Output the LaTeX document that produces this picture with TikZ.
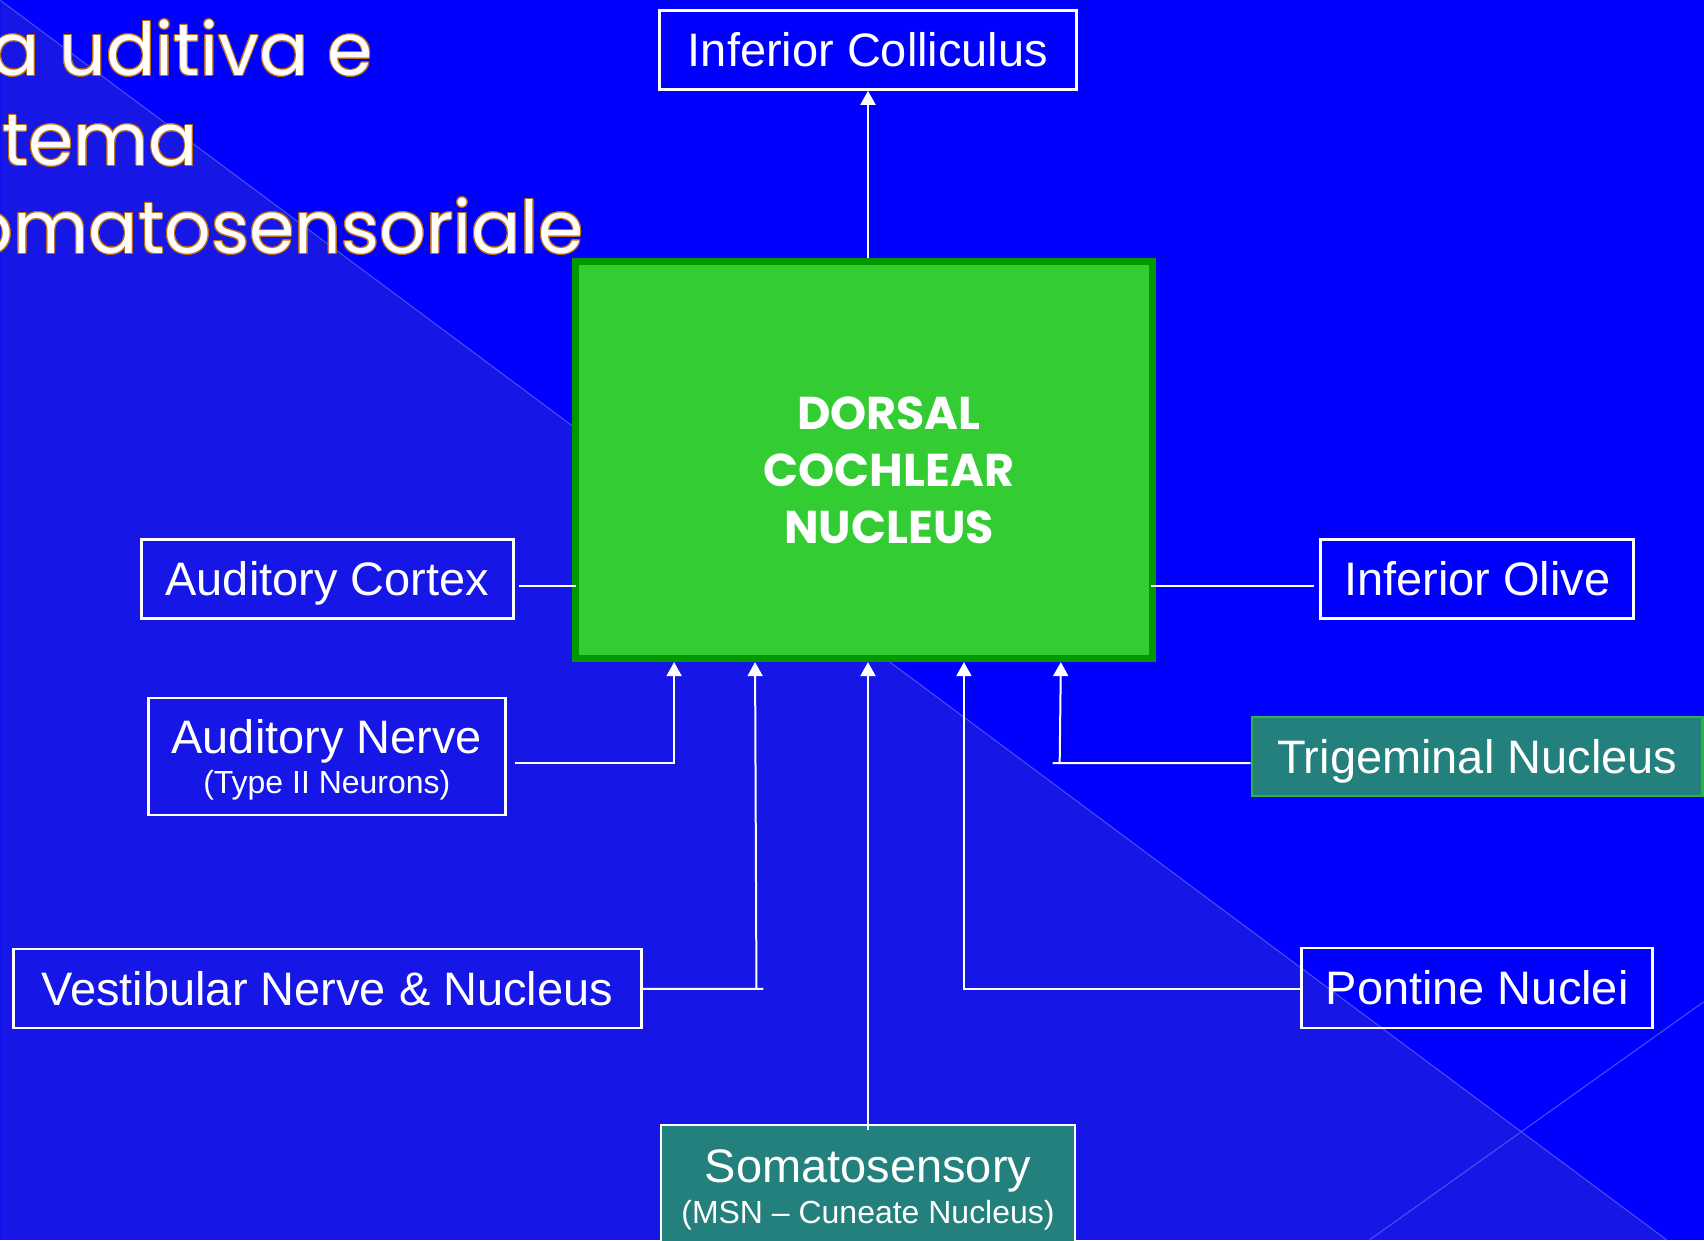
\documentclass[tikz,border=0pt]{standalone}
\usepackage{fontspec}
\setmainfont{Liberation Sans}
\newfontfamily\gothicfont{Poppins}
\usepackage{contour}
\contourlength{0.5pt}
\usetikzlibrary{calc, arrows.meta, positioning}

\definecolor{slideblue}{RGB}{0,0,255}
\definecolor{slidelight}{RGB}{22,22,230}
\definecolor{slideline}{RGB}{80,80,240}
\definecolor{cngreen}{RGB}{51,204,51}
\definecolor{cndark}{RGB}{0,153,0}
\definecolor{tealfill}{RGB}{35,128,125}
\definecolor{tnborder}{RGB}{45,180,70}
\definecolor{titleedge}{RGB}{190,110,20}

\newcommand{\mainsize}{\fontsize{23.5}{28}\selectfont}
\newcommand{\subsize}{\fontsize{16}{19}\selectfont}

\begin{document}
\begin{tikzpicture} [x=0.5pt, y=-0.5pt,
		% define styles
		basicnodestyle/.style={
			% The shape:
			rectangle,
			% The size:
			inner sep=0pt,
			minimum height=39.5pt,
			% The border:
			draw=white,
			line width=1.4pt,
			% Font
			text=white,
			font=\mainsize
		},
		tealnodestyle/.style={
			% The shape:
			rectangle,
			% The size:
			inner sep=0pt,
			minimum height=39.5pt,
			% The border:
			line width=1.2pt,
			% The filling:
			fill=tealfill,
			% Font
			text=white,
			font=\mainsize
		},
		onelinestyle/.style={
			% one line: caps centred, descenders ignored
			text height=17pt,
			text depth=0pt
		},
		greennodestyle/.style={
			% The shape:
			rectangle,
			% The size:
			minimum width=288.5pt,
			minimum height=198.5pt,
			% The border:
			draw=cndark,
			line width=3.5pt,
			% The filling:
			fill=cngreen
		},
		dorsaltextstyle/.style={
			align=center,
			text=white,
			% Font
			font=\gothicfont\bfseries\fontsize{23}{28.5}\selectfont
		},
		titlestyle/.style={
			anchor=base west,
			inner sep=0pt,
			text=white,
			% Font
			font=\gothicfont\fontsize{36.5}{44}\selectfont
		},
		arrow/.style={
			-{Triangle[width=7.5pt,length=7pt]},
			% Thickness
			line width=1pt,
			% Color
			white
		},
		connector/.style={
			-,
			% Thickness
			line width=1pt,
			% Color
			white
		}]
		% end of style definition
		
		% background
		\fill [slideblue] (0,0) rectangle (1704,1240);
		\fill [slidelight] (0,0) -- (1667,1240) -- (0,1240) -- cycle;
		\draw [slideline, line width=0.5pt] (0,0) -- (1667,1240);
		\draw [slideline, line width=0.5pt] (1370,1240) -- (1704,1002);
		\useasboundingbox (0,0) rectangle (1704,1240);
		
		% title
		\node (iTitleA) [titlestyle] at (-10,75) {\contour{titleedge}{a uditiva e}};
		\node (iTitleB) [titlestyle] at (-37,165) {\contour{titleedge}{stema}};
		\node (iTitleC) [titlestyle] at (-34,253) {\contour{titleedge}{omatosensoriale}};
		
		% draw nodes
		\node (iDorsal) [greennodestyle] at (864,460) {};
		\node (iDorsalText) [dorsaltextstyle] at (889,470) {DORSAL\\COCHLEAR\\NUCLEUS};
		
		\node (iColliculus) [basicnodestyle, onelinestyle, minimum width=208.5pt] at (868,49.5) {Inferior Colliculus};
		
		\node (iCortex) [basicnodestyle, onelinestyle, minimum width=186pt] at (327,578.5) {Auditory Cortex};
		\node (iNerve) [basicnodestyle, minimum width=178.5pt, minimum height=58.5pt, align=center] at (326.5,756.5) {\rule{0pt}{20pt}Auditory Nerve\\[-8pt]{\subsize (Type II Neurons)}};
		\node (iVestibular) [basicnodestyle, onelinestyle, minimum width=314pt] at (327,988.5) {Vestibular Nerve \& Nucleus};
		
		\node (iSomato) [tealnodestyle, draw=white, minimum width=207pt, minimum height=65pt, align=center] at (868,1190) {Somatosensory\\[-7.2pt]{\subsize (MSN -- Cuneate Nucleus)}};
		
		\node (iOlive) [basicnodestyle, onelinestyle, minimum width=156.5pt] at (1477.5,578.5) {Inferior Olive};
		\node (iTrigeminal) [tealnodestyle, onelinestyle, draw=tnborder, minimum width=225.5pt] at (1477.5,756.5) {Trigeminal Nucleus};
		\node (iPontine) [basicnodestyle, onelinestyle, minimum width=175.5pt, minimum height=40pt] at (1477.5,988) {Pontine Nuclei};
		
		% connect nodes
		\draw [arrow] (iDorsal.north -| iColliculus.south) -- (iColliculus.south);
		
		\draw [connector] ([shift={(4,7.5)}]iCortex.east) -- ([shift={(4,7.5)}]iCortex.east -| iDorsal.west);
		\draw [connector] ([shift={(-5,7.5)}]iOlive.west -| iDorsal.east) -- ([shift={(-5,7.5)}]iOlive.west);
		
		\draw [arrow] ([shift={(8,6.5)}]iNerve.east) -| ($(iDorsal.south west)+(102,0)$);
		\draw [arrow] ([shift={(0,0.5)}]iVestibular.east) -- ++(121,0) ++(-7,0) -- ($(iDorsal.south west)+(183,0)$);
		\draw [arrow] ([yshift=-3pt]iSomato.north) -- (iDorsal.south -| iSomato.north);
		\draw [arrow] ([shift={(0,1)}]iPontine.west) -| ($(iDorsal.south west)+(392,0)$);
		\draw [arrow] ([shift={(0,6.5)}]iTrigeminal.west) -- ++(-198,0) ++(7,0) -- ($(iDorsal.south west)+(489,0)$);
	\end{tikzpicture}
\end{document}
